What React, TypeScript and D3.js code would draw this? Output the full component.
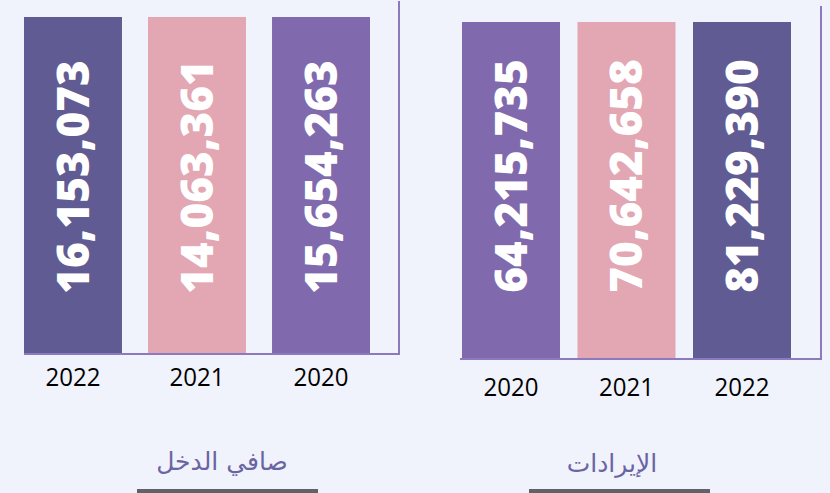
import React from "react";
import * as d3 from "d3";

const netIncomeYears = ["2022", "2021", "2020"];
const netIncomeValues = [16153073, 14063361, 15654263];
const revenueYears = ["2020", "2021", "2022"];
const revenueValues = [64215735, 70642658, 81229390];
const netIncomeTitle = "صافي الدخل";
const revenueTitle = "الإيرادات";

const W = 830;
const H = 493;
const BG = "#f0f3fb";
const AXIS = "#8d79bf";
const yearColor: Record<string, string> = {
  "2020": "#806aad",
  "2021": "#e3a6b3",
  "2022": "#615b93",
};
const fmt = d3.format(",");

type PanelProps = {
  years: string[];
  values: number[];
  title: string;
  x0: number;
  x1: number;
  pad: number;
  top: number;
  bottom: number;
  textY: number;
  axisRight: number;
  axisTop: number;
  axisLeft: number;
  labelY: number;
  titleX: number;
  titleY: number;
  ulX0: number;
  ulX1: number;
};

function Panel(p: PanelProps) {
  const x = d3.scaleBand<string>().domain(p.years).range([p.x0, p.x1]).paddingInner(p.pad).paddingOuter(0);
  const y = d3.scaleLinear().domain([0, 1]).range([p.bottom, p.top]);
  const bw = x.bandwidth();
  return (
    <g>
      {p.years.map((yr) => (
        <rect key={yr} x={x(yr)} y={y(1)} width={bw} height={y(0) - y(1)} fill={yearColor[yr]} />
      ))}
      {p.years.map((yr, i) => {
        const cx = (x(yr) as number) + bw / 2;
        return (
          <text
            key={"v" + yr}
            transform={`translate(${cx},${p.textY}) rotate(-90)`}
            textAnchor="middle"
            dy="0.36em"
            fill="#ffffff"
            fontFamily="'Open Sans', sans-serif"
            fontWeight={800}
            fontSize={44}
          >
            {fmt(p.values[i])}
          </text>
        );
      })}
      <line x1={p.axisLeft} x2={p.axisRight + 1} y1={p.bottom + 1} y2={p.bottom + 1} stroke={AXIS} strokeWidth={2} />
      <line x1={p.axisRight} x2={p.axisRight} y1={p.axisTop} y2={p.bottom + 2} stroke={AXIS} strokeWidth={2} />
      {p.years.map((yr) => (
        <text
          key={"l" + yr}
          x={(x(yr) as number) + bw / 2}
          y={p.labelY}
          textAnchor="middle"
          fill="#000000"
          fontFamily="'Open Sans', sans-serif"
          fontSize={26}
          textLength={55}
          lengthAdjust="spacingAndGlyphs"
        >
          {yr}
        </text>
      ))}
      <text
        x={p.titleX}
        y={p.titleY}
        textAnchor="middle"
        fill="#6b64a3"
        fontFamily="'DejaVu Sans', sans-serif"
        fontSize={25}
        direction="rtl"
      >
        {p.title}
      </text>
      <rect x={p.ulX0} y={489} width={p.ulX1 - p.ulX0} height={4} fill="#616168" />
    </g>
  );
}

export default function App() {
  return (
    <svg
      width={W}
      height={H}
      viewBox={`0 0 ${W} ${H}`}
      style={{ position: "absolute", left: 0, top: 0, display: "block" }}
    >
      <rect x={0} y={0} width={W} height={H} fill={BG} />
      <Panel
        years={netIncomeYears}
        values={netIncomeValues}
        title={netIncomeTitle}
        x0={24}
        x1={370}
        pad={0.21}
        top={17}
        bottom={353}
        textY={177}
        axisRight={399}
        axisTop={1}
        axisLeft={24}
        labelY={386}
        titleX={222}
        titleY={470}
        ulX0={137}
        ulX1={318}
      />
      <Panel
        years={revenueYears}
        values={revenueValues}
        title={revenueTitle}
        x0={462}
        x1={791}
        pad={0.1515}
        top={22}
        bottom={358}
        textY={176}
        axisRight={821}
        axisTop={6}
        axisLeft={460}
        labelY={396}
        titleX={612}
        titleY={472}
        ulX0={529}
        ulX1={710}
      />
    </svg>
  );
}
